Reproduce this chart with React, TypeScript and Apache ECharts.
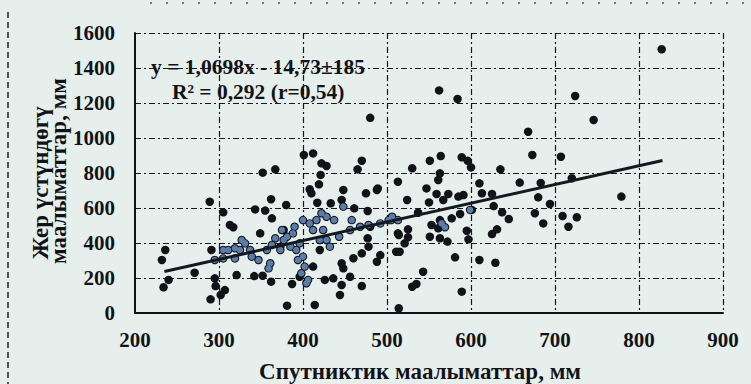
import React, { useEffect, useRef } from "react";
import * as echarts from "echarts";

// Satellite (x) vs ground (y) precipitation, mm — scattered points
const scatteredPoints: number[][] = [
  [352, 802], [367, 821], [289, 636], [305, 575], [362, 650], [343, 592], [355, 585], [363, 541],
  [313, 503], [317, 490], [349, 455], [236, 360], [232, 303], [291, 360], [240, 189], [234, 147],
  [271, 230], [295, 198], [296, 154], [307, 131], [302, 103], [290, 78], [321, 217], [342, 211],
  [352, 213], [362, 179],
  [401, 903], [412, 912], [422, 855], [428, 840], [470, 870], [465, 821], [421, 789], [419, 735],
  [408, 707], [410, 684], [380, 617], [417, 630], [433, 627], [448, 703], [446, 646], [475, 684],
  [489, 712], [513, 750], [461, 598], [477, 583], [507, 541], [477, 427], [478, 379], [470, 341],
  [460, 313], [492, 331], [488, 293], [511, 350], [446, 284], [448, 255], [426, 189], [436, 198],
  [446, 160], [456, 207], [470, 154], [444, 103], [387, 166], [396, 207], [414, 46], [381, 42],
  [412, 265], [420, 360], [377, 474], [373, 379], [488, 703], [480, 493], [513, 455], [551, 436],
  [530, 827], [551, 870], [564, 897], [589, 890], [596, 870], [600, 832], [635, 821], [563, 798],
  [561, 760], [547, 712], [610, 741], [559, 680], [573, 680], [567, 646], [585, 665], [591, 674],
  [613, 684], [625, 680], [524, 646], [550, 632], [627, 611], [637, 575], [645, 537], [601, 589],
  [587, 566], [537, 573], [525, 478], [514, 446], [525, 433], [521, 398], [515, 350], [553, 503],
  [563, 531], [577, 541], [561, 484], [563, 427], [572, 408], [595, 470], [597, 421], [631, 478],
  [625, 451], [581, 318], [610, 303], [629, 287], [543, 236], [535, 166], [530, 150], [589, 122],
  [514, 27],
  [827, 1507], [724, 1240], [746, 1103], [668, 1036], [673, 903], [707, 893], [779, 665], [683, 743],
  [658, 745], [720, 770], [680, 661], [694, 623], [676, 570], [686, 512], [709, 554], [726, 547],
  [716, 493], [562, 1272], [584, 1223], [480, 1115],
];

// Dense, overlapping points (they print as blue blobs with dark outlines)
const clusterPoints: number[][] = [
  [295, 303], [305, 312], [311, 360], [319, 370], [325, 360], [331, 398], [337, 360], [339, 322],
  [347, 303], [357, 360], [361, 284], [363, 389], [367, 427], [373, 360], [359, 255], [305, 360],
  [319, 312], [327, 417], [375, 474],
  [381, 436], [388, 455], [392, 360], [396, 398], [400, 322], [402, 265], [398, 227], [408, 512],
  [416, 531], [412, 474], [424, 474], [428, 417], [432, 379], [420, 417], [385, 379], [377, 417],
  [406, 189], [394, 303], [437, 531], [443, 436], [456, 474], [468, 493], [478, 503], [492, 512],
  [502, 531], [506, 550], [458, 531], [448, 608], [428, 550], [422, 570], [400, 531], [390, 493],
  [404, 170], [505, 531], [513, 531], [565, 512], [569, 490], [599, 589],
];

// Regression line end points
const trendLine: number[][] = [[235, 237], [828, 871]];

const equationLines = ["y = 1,0698x - 14,73±185", "R² = 0,292 (r=0,54)"];
const xAxisTitle = "Спутниктик маалыматтар, мм";
const yAxisTitleLines = ["Жер үстүндөгү", "маалыматтар, мм"];

const xMin = 200, xMax = 900, xStep = 100;
const yMin = 0, yMax = 1600, yStep = 200;

const FONT = "'Liberation Serif', 'Times New Roman', serif";
const INK = "#111318";
const BG = "#e7efec";

export default function App() {
  const ref = useRef<HTMLDivElement>(null);

  useEffect(() => {
    if (!ref.current) return;
    const chart = echarts.init(ref.current, null, { renderer: "svg" });
    const gridLine = { color: "#000000", width: 1.2, type: [6, 3, 2, 3], opacity: 0.9 };
    const tickLabel = {
      color: INK,
      fontFamily: FONT,
      fontWeight: "bold",
      fontSize: 21,
      formatter: (v: number) => String(v),
    };
    chart.setOption({
      animation: false,
      backgroundColor: BG,
      grid: { left: 135, right: 28, top: 33, bottom: 71, containLabel: false },
      xAxis: {
        type: "value",
        min: xMin,
        max: xMax,
        interval: xStep,
        axisLine: { show: true, onZero: false, lineStyle: { color: INK, width: 2 } },
        axisTick: { show: false },
        axisLabel: { ...tickLabel, margin: 16 },
        splitLine: { show: true, showMinLine: false, showMaxLine: true, lineStyle: gridLine },
      },
      yAxis: {
        type: "value",
        min: yMin,
        max: yMax,
        interval: yStep,
        axisLine: { show: true, onZero: false, lineStyle: { color: INK, width: 2 } },
        axisTick: { show: false },
        axisLabel: { ...tickLabel, margin: 20 },
        splitLine: { show: true, showMinLine: false, showMaxLine: true, lineStyle: gridLine },
      },
      series: [
        {
          type: "scatter",
          data: scatteredPoints.concat(clusterPoints),
          symbolSize: 8.5,
          itemStyle: { color: INK, opacity: 1 },
          z: 2,
        },
        {
          type: "scatter",
          data: clusterPoints,
          symbolSize: 6.5,
          itemStyle: { color: "#5a7dab", opacity: 1 },
          z: 3,
        },
        {
          type: "line",
          data: trendLine,
          showSymbol: false,
          symbol: "none",
          lineStyle: { color: "#14181f", width: 3 },
          z: 4,
        },
      ],
      graphic: [
        {
          type: "text",
          left: 151,
          top: 56,
          style: { text: equationLines[0], font: `bold 21.5px ${FONT}`, fill: INK },
          z: 10,
        },
        {
          type: "text",
          left: 172,
          top: 81,
          style: { text: equationLines[1], font: `bold 21.5px ${FONT}`, fill: INK },
          z: 10,
        },
        {
          type: "text",
          x: 420,
          y: 371,
          style: { text: xAxisTitle, font: `bold 23px ${FONT}`, fill: INK, align: "center", verticalAlign: "middle" },
        },
        {
          type: "text",
          x: 40,
          y: 183,
          rotation: Math.PI / 2,
          style: { text: yAxisTitleLines[0], font: `bold 23px ${FONT}`, fill: INK, align: "center", verticalAlign: "middle" },
        },
        {
          type: "text",
          x: 58,
          y: 171,
          rotation: Math.PI / 2,
          style: { text: yAxisTitleLines[1], font: `bold 23px ${FONT}`, fill: INK, align: "center", verticalAlign: "middle" },
        },
        {
          type: "line",
          shape: { x1: 8, y1: 12, x2: 8, y2: 384 },
          style: { stroke: "#222", lineWidth: 1.5, lineDash: [6, 4] },
        },
        {
          type: "line",
          shape: { x1: 150, y1: 3, x2: 751, y2: 3 },
          style: { stroke: "#555", lineWidth: 1.5, lineDash: [2, 14] },
        },
      ],
    });
    return () => chart.dispose();
  }, []);

  return (
    <div
      ref={ref}
      style={{ position: "fixed", left: 0, top: 0, width: 751, height: 384 }}
    />
  );
}
